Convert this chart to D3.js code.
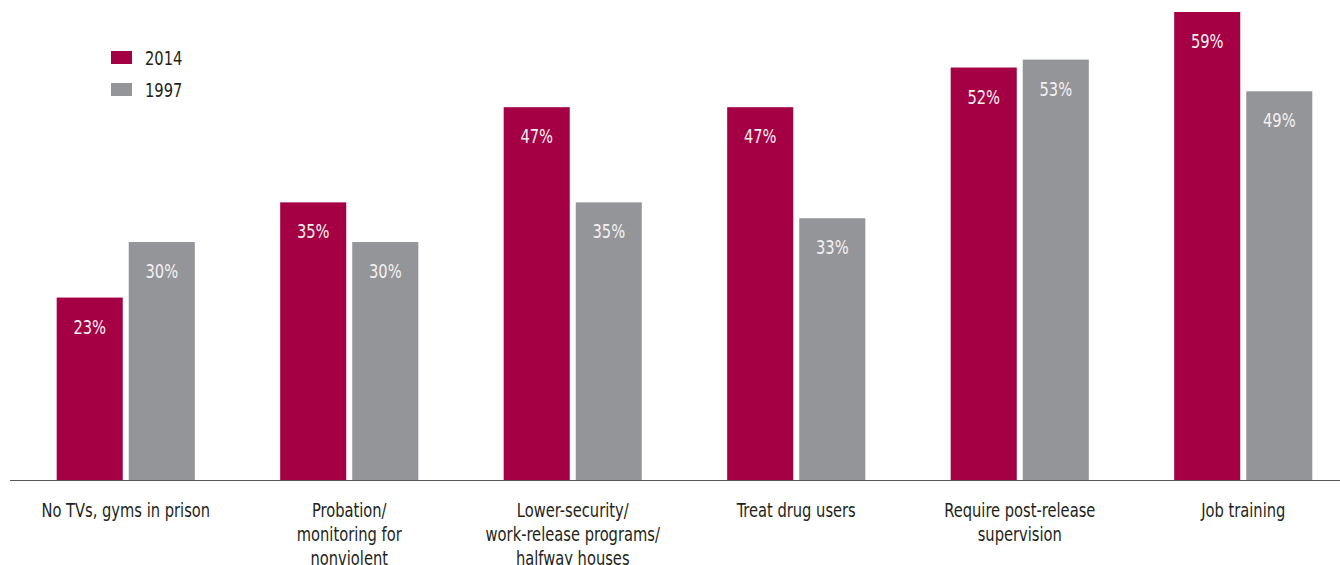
<!DOCTYPE html>
<html>
<head>
<meta charset="utf-8">
<script src="https://cdn.jsdelivr.net/npm/d3@7"></script>
<style>
  html, body { margin: 0; padding: 0; background: #fff; }
  svg { display: block; }
  text { font-family: "Liberation Sans Narrow", "DejaVu Sans Condensed", "Arial Narrow", sans-serif; }
</style>
</head>
<body>
<svg id="chart" width="1340" height="565"></svg>
<script>
const categories = [
  "No TVs, gyms in prison",
  "Probation/ monitoring for nonviolent",
  "Lower-security/ work-release programs/ halfway houses",
  "Treat drug users",
  "Require post-release supervision",
  "Job training"
];
const categoryLines = [
  ["No TVs, gyms in prison"],
  ["Probation/", "monitoring for", "nonviolent"],
  ["Lower-security/", "work-release programs/", "halfway houses"],
  ["Treat drug users"],
  ["Require post-release", "supervision"],
  ["Job training"]
];
const seriesNames = ["2014", "1997"];
const values2014 = [23, 35, 47, 47, 52, 59];
const values1997 = [30, 30, 35, 33, 53, 49];
const seriesColors = ["#A50044", "#939598"];

const W = 1340, H = 565;
const baseY = 480;
const SX = 0.86; // horizontal condensing of the text
const svg = d3.select("#chart");

const x0 = d3.scaleBand()
  .domain(categories)
  .range([14, 1355])
  .paddingInner(0.382)
  .paddingOuter(0.191);

const x1 = d3.scaleBand()
  .domain(seriesNames)
  .range([0, x0.bandwidth()])
  .paddingInner(0.0833);

const y = d3.scaleLinear().domain([0, 59]).range([baseY, 12]);

const color = d3.scaleOrdinal().domain(seriesNames).range(seriesColors);

const data = categories.map((c, i) => ({
  cat: c,
  vals: [
    { s: "2014", v: values2014[i] },
    { s: "1997", v: values1997[i] }
  ]
}));

const groups = svg.append("g").selectAll("g")
  .data(data).join("g")
  .attr("transform", d => `translate(${x0(d.cat)},0)`);

groups.selectAll("rect")
  .data(d => d.vals).join("rect")
  .attr("x", d => x1(d.s))
  .attr("y", d => y(d.v))
  .attr("width", x1.bandwidth())
  .attr("height", d => baseY - y(d.v))
  .attr("fill", d => color(d.s));

groups.selectAll("text.val")
  .data(d => d.vals).join("text")
  .attr("class", "val")
  .attr("transform", d => `translate(${x1(d.s) + x1.bandwidth() / 2},${y(d.v) + 36}) scale(${SX},1)`)
  .attr("text-anchor", "middle")
  .attr("fill", "#f4f0f2")
  .attr("font-size", 19)
  .text(d => d.v + "%");

// baseline
svg.append("line")
  .attr("x1", 10).attr("x2", W)
  .attr("y1", baseY + 0.5).attr("y2", baseY + 0.5)
  .attr("stroke", "#58595b").attr("stroke-width", 1.2);

// axis labels
const axis = d3.axisBottom(x0).tickSize(0).tickFormat(() => "");
const axisG = svg.append("g").attr("transform", `translate(0,${baseY})`).call(axis);
axisG.select(".domain").remove();
axisG.selectAll(".tick text").remove();
axisG.selectAll(".tick").each(function(d, i) {
  const t = d3.select(this).append("text")
    .attr("transform", `scale(${SX},1)`)
    .attr("text-anchor", "middle")
    .attr("fill", "#231f20")
    .attr("font-size", 19);
  categoryLines[i].forEach((ln, j) => {
    t.append("tspan").attr("x", 0).attr("y", 37 + j * 24).text(ln);
  });
});

// legend
const legend = svg.append("g").attr("transform", "translate(111,51)");
seriesNames.forEach((s, i) => {
  const g = legend.append("g").attr("transform", `translate(0,${i * 32})`);
  g.append("rect").attr("width", 21).attr("height", 13).attr("fill", color(s));
  g.append("text").attr("transform", `translate(34,14) scale(${SX},1)`).attr("font-size", 19)
    .attr("fill", "#231f20").text(s);
});
</script>
</body>
</html>
